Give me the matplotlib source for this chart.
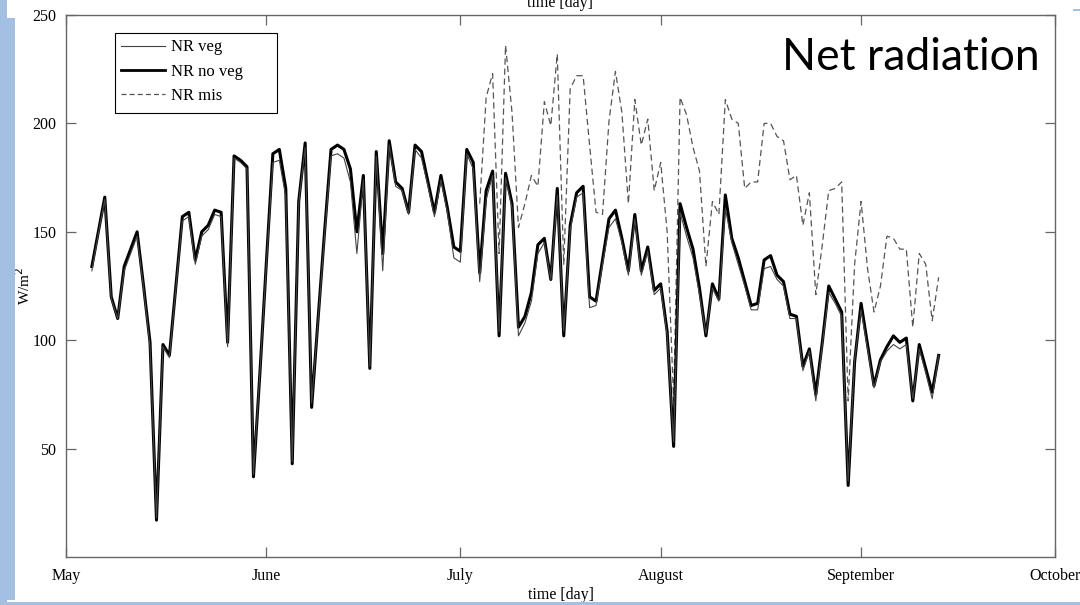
import numpy as np
import pandas as pd
import matplotlib
matplotlib.use("Agg")
import matplotlib.pyplot as plt
from matplotlib.patches import Rectangle
from matplotlib.lines import Line2D

# Daily net radiation, 5 May - 13 Sep (W/m2)
start_all = "2011-05-05"
nr_no_veg = [
    134, 150, 166, 120, 110, 134, 142, 150, 125, 99, 17, 98, 93, 125, 157, 159,
    137, 150, 153, 160, 159, 99, 185, 183, 180, 37, 85, 136, 186, 188, 170, 43,
    164, 191, 69, 110, 150, 188, 190, 188, 179, 150, 176, 87, 187, 140, 192, 173,
    170, 159, 190, 187, 173, 159, 176, 161, 143, 141, 188, 182, 131, 169, 178, 102,
    177, 163, 106, 111, 122, 144, 147, 128, 170, 102, 153, 168, 171, 120, 118, 137,
    156, 160, 147, 132, 158, 132, 143, 123, 126, 104, 51, 163, 152, 142, 124, 102,
    126, 119, 167, 147, 138, 127, 116, 117, 137, 139, 130, 127, 112, 111, 88, 96,
    75, 99, 125, 119, 113, 33, 90, 117, 98, 79, 91, 97, 102, 99, 101, 72,
    98, 87, 76, 93,
]
nr_veg = [
    132, 149, 165, 119, 110, 132, 140, 148, 124, 97, 18, 97, 92, 124, 155, 157,
    135, 148, 151, 158, 157, 97, 184, 182, 179, 38, 85, 135, 182, 183, 166, 44,
    163, 189, 71, 109, 148, 185, 186, 184, 173, 140, 174, 88, 185, 132, 190, 171,
    169, 158, 188, 184, 171, 157, 174, 159, 138, 136, 186, 179, 127, 165, 176, 104,
    175, 161, 102, 108, 118, 140, 145, 128, 167, 104, 151, 166, 168, 115, 116, 135,
    152, 156, 145, 130, 156, 130, 141, 121, 124, 102, 53, 159, 148, 138, 121, 103,
    124, 118, 161, 145, 135, 125, 114, 114, 133, 134, 128, 125, 110, 110, 86, 95,
    72, 98, 122, 117, 111, 35, 91, 114, 96, 78, 90, 95, 98, 96, 98, 73,
    96, 85, 73, 93,
]
start_mis = "2011-07-04"
nr_mis = [
    163, 212, 223, 140, 236, 205, 152, 163, 176, 171, 210, 199, 232, 135, 216, 222,
    222, 190, 159, 158, 201, 224, 205, 163, 211, 190, 202, 169, 182, 150, 72, 212,
    204, 189, 178, 134, 164, 158, 211, 202, 200, 170, 173, 173, 200, 200, 194, 192,
    174, 176, 153, 168, 121, 144, 169, 170, 173, 72, 135, 164, 133, 113, 125, 148,
    147, 142, 142, 106, 140, 135, 109, 129,
]
month_ticks = ["2011-05-01", "2011-06-01", "2011-07-01", "2011-08-01",
               "2011-09-01", "2011-10-01"]
month_labels = ["May", "June", "July", "August", "September", "October"]
y_ticks = [50, 100, 150, 200, 250]

dates_all = pd.date_range(start_all, periods=len(nr_no_veg), freq="D")
dates_mis = pd.date_range(start_mis, periods=len(nr_mis), freq="D")

serif = ["Liberation Serif", "DejaVu Serif"]
W, H = 1080, 605
fig = plt.figure(figsize=(W / 100, H / 100), dpi=100)

# slide frame decoration
frame_blue = "#a3c0e2"
fig.patches.append(Rectangle((0, 0), 7 / W, 1, transform=fig.transFigure,
                             facecolor=frame_blue, edgecolor="none", zorder=0))
fig.patches.append(Rectangle((0, 5 / H), 15 / W, (H - 18 - 5) / H,
                             transform=fig.transFigure, facecolor=frame_blue,
                             edgecolor="none", zorder=0))
fig.patches.append(Rectangle((0, 0), 1, 3 / H, transform=fig.transFigure,
                             facecolor=frame_blue, edgecolor="none", zorder=0))
fig.patches.append(Rectangle((1073 / W, 1 - 11 / H), 7 / W, 2 / H,
                             transform=fig.transFigure, facecolor=frame_blue,
                             edgecolor="none", zorder=0))

ax = fig.add_axes([66 / W, 1 - 557 / H, (1055 - 66) / W, (557 - 15) / H])

ax.plot(dates_mis, nr_mis, color="#555555", lw=0.9, ls=(0, (5, 3)),
        label="NR mis", zorder=2)
ax.plot(dates_all, nr_no_veg, color="black", lw=2.2, label="NR no veg",
        zorder=3)
ax.plot(dates_all, nr_veg, color="#444444", lw=0.8, label="NR veg", zorder=4)

ax.set_xlim(pd.Timestamp(month_ticks[0]), pd.Timestamp(month_ticks[-1]))
ax.set_ylim(0, 250)
ax.set_xticks([pd.Timestamp(d) for d in month_ticks])
ax.set_xticklabels(month_labels, fontfamily=serif, fontsize=11.5)
ax.set_yticks(y_ticks)
ax.set_yticklabels([str(v) for v in y_ticks], fontfamily=serif, fontsize=11.5)
ax.tick_params(direction="in", length=7, width=0.9, color="#666666",
               top=True, right=True)
ax.tick_params(axis="x", pad=8)
ax.tick_params(axis="y", pad=7)
for s in ax.spines.values():
    s.set_color("#666666")
    s.set_linewidth(1.0)

ax.set_xlabel("time [day]", fontfamily=serif, fontsize=11.5, labelpad=2)
ax.set_ylabel("W/m$^2$", fontfamily=serif, fontsize=11)
ax.yaxis.set_label_coords((33 - 66) / 989, 0.5)

# partially visible heading at the very top edge
fig.text(560 / W, 1 - 7 / H, "time [day]", ha="center", va="baseline",
         fontfamily=serif, fontsize=11.5)

# legend: frame drawn as a fixed box, entries placed inside it
fig.patches.append(Rectangle((115 / W, 1 - 113 / H), (277 - 115) / W,
                             (113 - 33) / H, transform=fig.transFigure,
                             facecolor="white", edgecolor="black", lw=0.8,
                             zorder=5))
handles = [
    Line2D([], [], color="#444444", lw=0.8),
    Line2D([], [], color="black", lw=2.0),
    Line2D([], [], color="#555555", lw=0.9, ls=(0, (4, 2.5))),
]
leg = fig.legend(handles, ["NR veg", "NR no veg", "NR mis"],
                 loc="upper left", bbox_to_anchor=(118 / W, 1 - 36 / H),
                 prop={"family": serif, "size": 12}, frameon=False,
                 handlelength=2.6, handletextpad=0.4, labelspacing=0.5,
                 borderpad=0.2, borderaxespad=0)
leg.set_zorder(6)

ax.text(1040 / W, 1 - 70 / H, "Net radiation", transform=fig.transFigure,
        ha="right", va="baseline", fontfamily=["Lato", "DejaVu Sans"],
        fontsize=32, color="black")

fig.savefig("out.png", dpi=100)
